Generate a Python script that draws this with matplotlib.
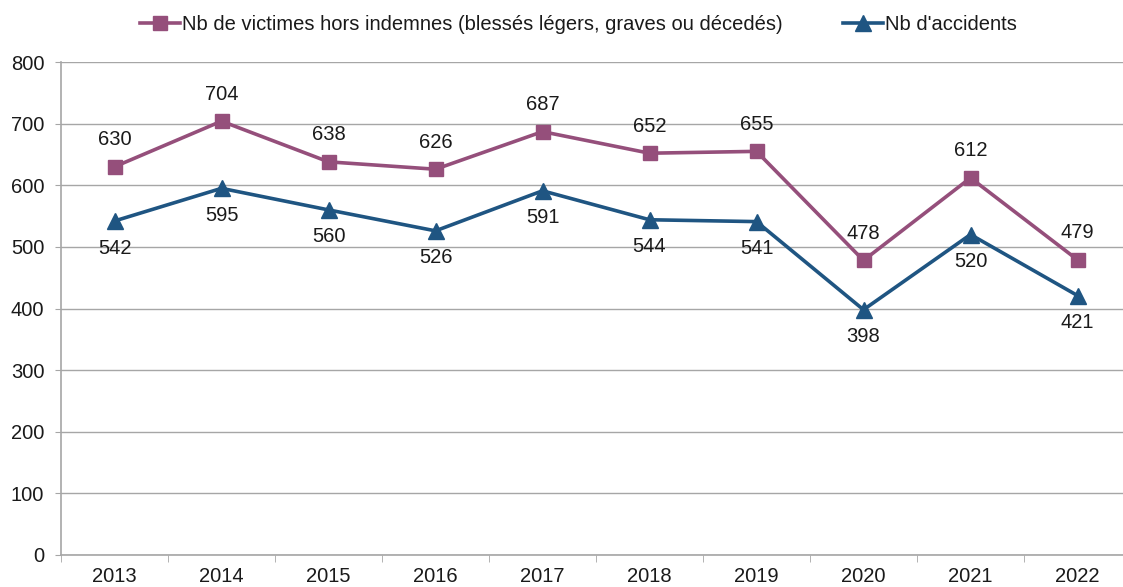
import matplotlib.pyplot as plt
from matplotlib.ticker import FixedLocator

plt.rcParams['font.family'] = ['Liberation Sans', 'DejaVu Sans']

years = ['2013', '2014', '2015', '2016', '2017', '2018', '2019', '2020', '2021', '2022']
victimes = [630, 704, 638, 626, 687, 652, 655, 478, 612, 479]
accidents = [542, 595, 560, 526, 591, 544, 541, 398, 520, 421]

purple = '#954F7B'
blue = '#1F5582'
grid = '#A6A6A6'
fs = 14.5

fig = plt.figure(figsize=(11.23, 5.87), dpi=100)
ax = fig.add_axes([61 / 1123, 1 - 555 / 587, 1070 / 1123, (555 - 62) / 587])

x = list(range(len(years)))
ax.plot(x, victimes, color=purple, lw=2.6, marker='s', ms=10.5,
        label='Nb de victimes hors indemnes (blessés légers, graves ou décedés)')
ax.plot(x, accidents, color=blue, lw=2.6, marker='^', ms=11,
        label="Nb d'accidents")

for i in x:
    ax.annotate(str(victimes[i]), (i, victimes[i]), xytext=(0, 19.5), textcoords='offset points',
                ha='center', va='center', fontsize=fs, color='#1a1a1a')
    ax.annotate(str(accidents[i]), (i, accidents[i]), xytext=(0, -19.5), textcoords='offset points',
                ha='center', va='center', fontsize=fs, color='#1a1a1a')

ax.set_xlim(-0.5, len(years) - 0.5)
ax.set_ylim(0, 800)
ax.set_yticks(range(0, 801, 100))
ax.set_xticks(x)
ax.set_xticklabels(years)
ax.xaxis.set_minor_locator(FixedLocator([i - 0.5 for i in range(len(years) + 1)]))
ax.tick_params(axis='x', which='major', length=0, labelsize=fs, pad=9, labelcolor='#1a1a1a')
ax.tick_params(axis='x', which='minor', length=5, color=grid, direction='out')
ax.tick_params(axis='y', length=4, color=grid, labelsize=fs, pad=8, labelcolor='#1a1a1a')

ax.grid(axis='y', color=grid, lw=1)
ax.set_axisbelow(True)
for s in ['top', 'right']:
    ax.spines[s].set_visible(False)
for s in ['left', 'bottom']:
    ax.spines[s].set_color(grid)
    ax.spines[s].set_linewidth(1.2)

fig.legend(loc='upper center', bbox_to_anchor=(0.515, 1.005), ncol=2, frameon=False,
           fontsize=fs, handlelength=2.0, handletextpad=0.1, columnspacing=3.0,
           labelcolor='#1a1a1a')

fig.savefig('out.png', dpi=100)
